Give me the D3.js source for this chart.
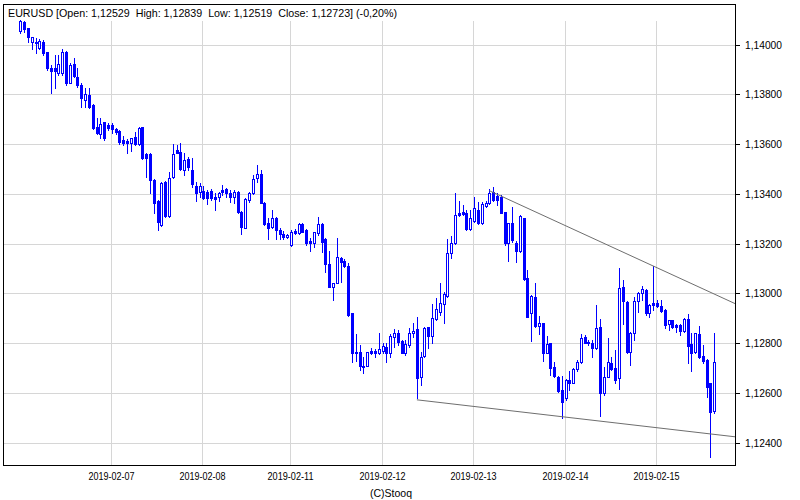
<!DOCTYPE html>
<html><head><meta charset="utf-8">
<script src="https://cdn.jsdelivr.net/npm/d3@7"></script>
<style>
body{margin:0;background:#fff}
svg{display:block}
text{font-family:"Liberation Sans",Arial,sans-serif;fill:#000}
</style>
</head><body>
<svg id="chart" width="800" height="500"></svg>
<script>
// ---------------- DATA ----------------
const symbol = "EURUSD";
const days = ["2019-02-06","2019-02-07","2019-02-08","2019-02-11","2019-02-12","2019-02-13","2019-02-14","2019-02-15"];
const barsPerDay = [24,24,23,24,24,24,24,16];
const changePct = "-0,20%";

const opens = [
1.14055,1.14091,1.14066,1.14012,1.14012,1.13986,1.14012,1.13972,1.13908,1.13905,
1.13885,1.13885,1.13972,1.13847,1.13921,1.13871,1.13838,1.13778,1.13798,1.13758,
1.13668,1.13641,1.13688,1.13677,1.13677,1.13661,1.13654,1.13617,1.13613,1.13604,
1.13630,1.13600,1.13668,1.13561,1.13561,1.13456,1.13373,1.13275,1.13449,1.13311,
1.13469,1.13577,1.13570,1.13496,1.13541,1.13496,1.13432,1.13409,1.13413,1.13409,
1.13413,1.13389,1.13387,1.13416,1.13419,1.13405,1.13389,1.13409,1.13329,1.13264,
1.13376,1.13403,1.13463,1.13480,1.13365,1.13282,1.13266,1.13302,1.13255,1.13238,
1.13226,1.13195,1.13251,1.13242,1.13279,1.13255,1.13212,1.13202,1.13244,1.13279,
1.13219,1.13118,1.13027,1.13043,1.13141,1.13131,1.13110,1.12920,1.12766,1.12765,
1.12710,1.12710,1.12769,1.12769,1.12759,1.12770,1.12784,1.12762,1.12826,1.12840,
1.12809,1.12762,1.12793,1.12840,1.12856,1.12663,1.12749,1.12864,1.12829,1.12896,
1.12927,1.12958,1.12990,1.13161,1.13202,1.13322,1.13326,1.13325,1.13258,1.13293,
1.13336,1.13284,1.13353,1.13362,1.13409,1.13392,1.13389,1.13326,1.13202,1.13282,
1.13204,1.13172,1.13302,1.13061,1.12923,1.12985,1.12869,1.12880,1.12762,1.12800,
1.12706,1.12665,1.12612,1.12579,1.12652,1.12641,1.12695,1.12726,1.12824,1.12806,
1.12802,1.12780,1.12864,1.12599,1.12665,1.12719,1.12699,1.12659,1.13025,1.12967,
1.12766,1.12840,1.12971,1.13001,1.13014,1.12920,1.12960,1.12960,1.12950,1.12934,
1.12877,1.12891,1.12873,1.12873,1.12850,1.12897,1.12797,1.12766,1.12837,1.12749,
1.12733,1.12639,1.12529];

const highs = [
1.14099,1.14095,1.14066,1.14032,1.14026,1.14022,1.14019,1.13972,1.13918,1.13959,
1.13959,1.13983,1.13975,1.13925,1.13948,1.13905,1.13845,1.13825,1.13825,1.13760,
1.13704,1.13705,1.13691,1.13684,1.13684,1.13664,1.13657,1.13633,1.13620,1.13626,
1.13648,1.13670,1.13670,1.13563,1.13563,1.13459,1.13376,1.13449,1.13453,1.13490,
1.13600,1.13597,1.13604,1.13566,1.13550,1.13545,1.13448,1.13443,1.13432,1.13416,
1.13419,1.13403,1.13409,1.13436,1.13423,1.13416,1.13416,1.13412,1.13332,1.13383,
1.13409,1.13476,1.13516,1.13496,1.13369,1.13302,1.13336,1.13309,1.13262,1.13251,
1.13239,1.13253,1.13258,1.13282,1.13284,1.13258,1.13222,1.13248,1.13309,1.13282,
1.13222,1.13171,1.13043,1.13222,1.13148,1.13137,1.13124,1.12923,1.12837,1.12793,
1.12746,1.12766,1.12782,1.12776,1.12840,1.12800,1.12800,1.12837,1.12857,1.12853,
1.12813,1.12813,1.12860,1.12880,1.12904,1.12766,1.12866,1.12866,1.12958,1.12981,
1.13041,1.13007,1.13218,1.13231,1.13405,1.13373,1.13356,1.13336,1.13336,1.13389,
1.13369,1.13369,1.13373,1.13419,1.13427,1.13403,1.13396,1.13329,1.13284,1.13349,
1.13211,1.13315,1.13305,1.13094,1.12994,1.13041,1.12909,1.12882,1.12830,1.12802,
1.12726,1.12668,1.12668,1.12655,1.12686,1.12699,1.12733,1.12836,1.12833,1.12813,
1.12813,1.12954,1.12896,1.12706,1.12820,1.12746,1.12773,1.13101,1.13054,1.12970,
1.12846,1.12987,1.13007,1.13030,1.13017,1.12958,1.13110,1.12974,1.12974,1.12936,
1.12893,1.12893,1.12877,1.12877,1.12900,1.12917,1.12840,1.12842,1.12869,1.12793,
1.12735,1.12641,1.12839];

const lows = [
1.14048,1.14050,1.14010,1.13982,1.13965,1.13982,1.13959,1.13898,1.13805,1.13825,
1.13878,1.13878,1.13838,1.13845,1.13871,1.13831,1.13751,1.13751,1.13746,1.13660,
1.13641,1.13626,1.13617,1.13657,1.13646,1.13641,1.13600,1.13597,1.13563,1.13574,
1.13596,1.13597,1.13539,1.13469,1.13405,1.13322,1.13255,1.13271,1.13309,1.13309,
1.13464,1.13563,1.13496,1.13476,1.13496,1.13428,1.13372,1.13389,1.13379,1.13360,
1.13376,1.13336,1.13373,1.13396,1.13389,1.13369,1.13365,1.13322,1.13238,1.13262,
1.13369,1.13399,1.13449,1.13362,1.13275,1.13218,1.13262,1.13218,1.13218,1.13218,
1.13221,1.13192,1.13239,1.13239,1.13246,1.13195,1.13172,1.13188,1.13235,1.13168,
1.13088,1.13025,1.12974,1.13041,1.13047,1.13108,1.12909,1.12726,1.12730,1.12692,
1.12679,1.12708,1.12755,1.12746,1.12757,1.12759,1.12726,1.12743,1.12786,1.12793,
1.12759,1.12753,1.12786,1.12826,1.12579,1.12632,1.12746,1.12780,1.12802,1.12891,
1.12913,1.12880,1.12987,1.13141,1.13199,1.13311,1.13315,1.13255,1.13255,1.13289,
1.13278,1.13279,1.13349,1.13360,1.13373,1.13356,1.13322,1.13195,1.13132,1.13208,
1.13128,1.13168,1.13054,1.12904,1.12810,1.12866,1.12837,1.12730,1.12759,1.12672,
1.12665,1.12605,1.12498,1.12572,1.12612,1.12639,1.12686,1.12720,1.12800,1.12793,
1.12746,1.12776,1.12505,1.12592,1.12663,1.12692,1.12639,1.12615,1.12877,1.12762,
1.12712,1.12813,1.12924,1.12974,1.12913,1.12907,1.12934,1.12947,1.12927,1.12860,
1.12853,1.12860,1.12846,1.12833,1.12846,1.12719,1.12686,1.12762,1.12739,1.12719,
1.12585,1.12344,1.12519];

const closes = [
1.14095,1.14062,1.14032,1.14030,1.14006,1.14015,1.13968,1.13905,1.13894,1.13894,
1.13921,1.13970,1.13847,1.13918,1.13874,1.13838,1.13785,1.13801,1.13751,1.13664,
1.13646,1.13681,1.13623,1.13664,1.13661,1.13650,1.13610,1.13604,1.13604,1.13624,
1.13600,1.13666,1.13546,1.13546,1.13456,1.13365,1.13289,1.13445,1.13311,1.13463,
1.13561,1.13566,1.13499,1.13537,1.13510,1.13439,1.13405,1.13432,1.13383,1.13383,
1.13383,1.13380,1.13403,1.13407,1.13403,1.13389,1.13407,1.13326,1.13266,1.13379,
1.13403,1.13459,1.13480,1.13365,1.13279,1.13264,1.13302,1.13255,1.13238,1.13226,
1.13234,1.13248,1.13242,1.13278,1.13248,1.13204,1.13202,1.13246,1.13278,1.13208,
1.13117,1.13027,1.13041,1.13145,1.13128,1.13112,1.12913,1.12759,1.12759,1.12710,
1.12706,1.12764,1.12759,1.12759,1.12776,1.12789,1.12762,1.12829,1.12840,1.12806,
1.12762,1.12797,1.12842,1.12850,1.12659,1.12746,1.12862,1.12829,1.12900,1.12936,
1.12960,1.12998,1.13161,1.13202,1.13315,1.13315,1.13318,1.13258,1.13302,1.13342,
1.13282,1.13358,1.13365,1.13405,1.13376,1.13376,1.13325,1.13202,1.13282,1.13215,
1.13172,1.13311,1.13057,1.12907,1.12990,1.12869,1.12880,1.12762,1.12797,1.12699,
1.12668,1.12609,1.12565,1.12652,1.12641,1.12696,1.12726,1.12820,1.12802,1.12800,
1.12780,1.12862,1.12599,1.12665,1.12726,1.12695,1.12652,1.13021,1.12971,1.12766,
1.12842,1.12971,1.13003,1.13017,1.12920,1.12954,1.12954,1.12950,1.12931,1.12873,
1.12891,1.12866,1.12866,1.12850,1.12897,1.12790,1.12762,1.12840,1.12746,1.12729,
1.12623,1.12525,1.12723];

const yTickValues = [1.124,1.126,1.128,1.130,1.132,1.134,1.136,1.138,1.140];

// trend lines: two anchor points each [bar index, price], extended to the right edge
const trendUpper = [[123, 1.13413], [166, 1.13110]];
const trendLower = [[104, 1.12572], [182, 1.12433]];

// ---------------- LAYOUT ----------------
const frame = {left: 3.5, top: 4.5, right: 735.5, bottom: 465.5};
const gridTop = 21;
const blue = "#0000ff";
const gridColor = "#d6d6d6";
const trendColor = "#6e6e6e";

// categories (bar labels) from days and bar counts
const bars = [];
days.forEach((d, di) => {
  for (let h = 0; h < barsPerDay[di]; h++) bars.push({day: d, hour: h, dayStart: h === 0});
});
const N = bars.length;
const data = bars.map((b, i) => ({...b, i, o: opens[i], h: highs[i], l: lows[i], c: closes[i]}));

const svg = d3.select("#chart");
const x = d3.scaleLinear().domain([0, N - 1]).range([20.3, 714.3]);
const y = d3.scaleLinear().domain([1.124, 1.140]).range([442.6, 44.7]);

const loc = d3.formatLocale({decimal: ",", thousands: ".", grouping: [3], currency: ["", ""]});
const fmt5 = loc.format(".5f");

// clip for plot
svg.append("defs").append("clipPath").attr("id", "plotclip")
  .append("rect").attr("x", frame.left).attr("y", frame.top)
  .attr("width", frame.right - frame.left).attr("height", frame.bottom - frame.top);

// horizontal grid
svg.append("g").attr("shape-rendering", "crispEdges").selectAll("line")
  .data(yTickValues).join("line")
  .attr("x1", frame.left).attr("x2", frame.right)
  .attr("y1", d => Math.round(y(d)) + 0.5).attr("y2", d => Math.round(y(d)) + 0.5)
  .attr("stroke", gridColor);

// vertical grid at day starts (except the first day)
const dayStarts = data.filter(d => d.dayStart && d.i > 0);
svg.append("g").attr("shape-rendering", "crispEdges").selectAll("line")
  .data(dayStarts).join("line")
  .attr("x1", d => Math.round(x(d.i)) - 0.5).attr("x2", d => Math.round(x(d.i)) - 0.5)
  .attr("y1", gridTop).attr("y2", frame.bottom)
  .attr("stroke", gridColor);

// candles
const cg = svg.append("g").attr("shape-rendering", "crispEdges").attr("clip-path", "url(#plotclip)");
const candle = cg.selectAll("g").data(data).join("g");
candle.append("line")
  .attr("x1", d => Math.round(x(d.i)) + 0.5).attr("x2", d => Math.round(x(d.i)) + 0.5)
  .attr("y1", d => Math.round(y(Math.max(d.h, d.o, d.c))))
  .attr("y2", d => Math.round(y(Math.min(d.l, d.o, d.c))) + 1)
  .attr("stroke", blue);
candle.append("rect")
  .attr("x", d => Math.round(x(d.i)) - 0.5)
  .attr("y", d => Math.round(y(Math.max(d.o, d.c))) + 0.5)
  .attr("width", 2)
  .attr("height", d => Math.max(1, Math.round(y(Math.min(d.o, d.c))) - Math.round(y(Math.max(d.o, d.c)))))
  .attr("fill", d => d.c >= d.o ? "#ffffff" : blue)
  .attr("stroke", blue);

// trend lines
function extendLine(pts) {
  const [[i0, p0], [i1, p1]] = pts;
  const slope = (p1 - p0) / (i1 - i0);
  const iEnd = x.invert(frame.right);
  return [[x(i0), y(p0)], [x(iEnd), y(p0 + slope * (iEnd - i0))]];
}
const tg = svg.append("g").attr("clip-path", "url(#plotclip)");
[trendUpper, trendLower].forEach(t => {
  const seg = extendLine(t);
  tg.append("line")
    .attr("x1", seg[0][0]).attr("y1", seg[0][1])
    .attr("x2", seg[1][0]).attr("y2", seg[1][1])
    .attr("stroke", trendColor).attr("stroke-width", 1);
});

// frame
svg.append("rect")
  .attr("x", frame.left).attr("y", frame.top)
  .attr("width", frame.right - frame.left).attr("height", frame.bottom - frame.top)
  .attr("fill", "none").attr("stroke", "#000").attr("shape-rendering", "crispEdges");

// right axis ticks + labels
const ya = svg.append("g");
ya.selectAll("line").data(yTickValues).join("line")
  .attr("x1", frame.right).attr("x2", frame.right + 4)
  .attr("y1", d => Math.round(y(d)) + 0.5).attr("y2", d => Math.round(y(d)) + 0.5)
  .attr("stroke", "#000").attr("shape-rendering", "crispEdges");
ya.selectAll("text").data(yTickValues).join("text")
  .attr("x", 745).attr("y", d => y(d) + 4)
  .attr("font-size", 10.5)
  .attr("textLength", 37).attr("lengthAdjust", "spacingAndGlyphs")
  .text(d => fmt5(d));

// bottom date labels
svg.append("g").selectAll("text").data(dayStarts).join("text")
  .attr("x", d => Math.round(x(d.i)) - 0.5).attr("y", 480)
  .attr("text-anchor", "middle").attr("font-size", 10.5)
  .attr("textLength", 46).attr("lengthAdjust", "spacingAndGlyphs")
  .text(d => d.day);

svg.append("text").attr("x", 391).attr("y", 497).attr("text-anchor", "middle")
  .attr("font-size", 10.5).text("(C)Stooq");

// legend
const last = data[N - 1];
svg.append("text").attr("x", 8).attr("y", 17).attr("font-size", 11)
  .style("white-space", "pre")
  .attr("textLength", 389).attr("lengthAdjust", "spacingAndGlyphs")
  .text(`${symbol} [Open: ${fmt5(last.o)}  High: ${fmt5(last.h)}  Low: ${fmt5(last.l)}  Close: ${fmt5(last.c)}] (${changePct})`);
</script>
</body></html>
